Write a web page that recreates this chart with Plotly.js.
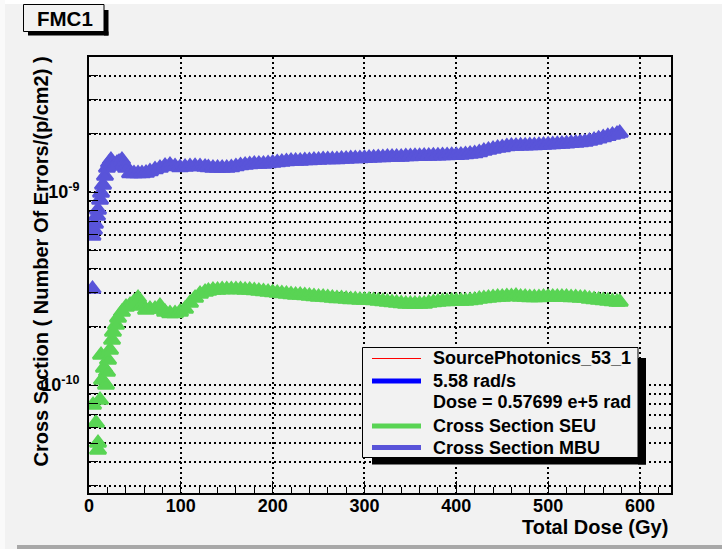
<!DOCTYPE html>
<html>
<head>
<meta charset="utf-8">
<script src="https://cdn.plot.ly/plotly-3.0.1.min.js"></script>
<style>
html,body{margin:0;padding:0;background:#ffffff;}
#chart{width:728px;height:551px;}
</style>
</head>
<body>
<div id="chart"></div>
<script>
// ---------------- data ----------------
const chartTitle = "FMC1";
const xTitle = "Total Dose (Gy)";
const yTitle = "Cross Section ( Number Of Errors/(p/cm2) )";

const legendLabels = ["SourcePhotonics_53_1", "5.58 rad/s", "Dose = 0.57699 e+5 rad", "Cross Section SEU", "Cross Section MBU"];

const xTickVals = [0, 100, 200, 300, 400, 500, 600];
const yMajorVals = [1e-10, 1e-9];
const yMajorText = ["10<sup>-10</sup>", "10<sup>-9</sup>"];

// Cross Section SEU
const seuDose = [9.8, 9.8, 7.6, 4.4, 12.0, 13.1, 14.2, 16.3, 18.5, 19.6, 20.7, 22.9, 25.1, 26.1, 29.4, 31.6, 35.9, 40.3, 44.7, 49.0,
  53.4, 57.7, 62.1, 66.4, 71.9, 77.3, 82.8, 88.2, 93.7, 99.1, 104.6, 110.0, 115.5, 120.9, 126.4,
  130, 135, 140, 145, 150, 155, 160, 165, 170, 175, 180, 185, 190, 195, 200, 205, 210, 215, 220, 225,
  230, 235, 240, 245, 250, 255, 260, 265, 270, 275, 280, 285, 290, 295, 300, 305, 310, 315, 320, 325,
  330, 335, 340, 345, 350, 355, 360, 365, 370, 375, 380, 385, 390, 395, 400, 405, 410, 415, 420, 425,
  430, 435, 440, 445, 450, 455, 460, 465, 470, 475, 480, 485, 490, 495, 500, 505, 510, 515, 520, 525,
  530, 535, 540, 545, 550, 555, 560, 565, 570, 575, 578];
const seuXS = [4.60e-11, 5.00e-11, 6.36e-11, 7.88e-11, 8.36e-11, 1.430e-10, 1.061e-10, 1.225e-10, 1.000e-10, 1.168e-10,
  1.347e-10, 1.518e-10, 1.711e-10, 1.882e-10, 2.046e-10, 2.224e-10, 2.389e-10, 2.536e-10, 2.598e-10, 2.692e-10,
  2.824e-10, 2.567e-10, 2.447e-10, 2.476e-10, 2.476e-10, 2.567e-10, 2.389e-10, 2.347e-10, 2.347e-10, 2.389e-10,
  2.476e-10, 2.660e-10, 2.824e-10, 2.961e-10, 3.033e-10,
  3.069e-10, 3.107e-10, 3.107e-10, 3.125e-10, 3.125e-10, 3.125e-10, 3.125e-10, 3.125e-10, 3.107e-10, 3.107e-10,
  3.088e-10, 3.069e-10, 3.051e-10, 3.033e-10, 3.015e-10, 2.997e-10, 2.979e-10, 2.961e-10, 2.944e-10, 2.926e-10,
  2.926e-10, 2.909e-10, 2.891e-10, 2.874e-10, 2.858e-10, 2.858e-10, 2.841e-10, 2.824e-10, 2.807e-10, 2.807e-10,
  2.790e-10, 2.774e-10, 2.774e-10, 2.757e-10, 2.757e-10, 2.757e-10, 2.741e-10, 2.724e-10, 2.708e-10, 2.692e-10,
  2.676e-10, 2.660e-10, 2.645e-10, 2.629e-10, 2.629e-10, 2.629e-10, 2.629e-10, 2.629e-10, 2.660e-10, 2.676e-10,
  2.692e-10, 2.708e-10, 2.708e-10, 2.724e-10, 2.724e-10, 2.724e-10, 2.724e-10, 2.741e-10, 2.757e-10, 2.790e-10,
  2.807e-10, 2.824e-10, 2.841e-10, 2.858e-10, 2.858e-10, 2.874e-10, 2.874e-10, 2.891e-10, 2.858e-10, 2.858e-10,
  2.841e-10, 2.841e-10, 2.841e-10, 2.858e-10, 2.858e-10, 2.858e-10, 2.858e-10, 2.858e-10, 2.858e-10, 2.841e-10,
  2.841e-10, 2.824e-10, 2.824e-10, 2.790e-10, 2.774e-10, 2.757e-10, 2.741e-10, 2.724e-10, 2.708e-10, 2.692e-10, 2.692e-10];

// Cross Section MBU
const mbuDose = [3.8, 3.8, 5.4, 6.5, 8.7, 9.8, 12.0, 13.1, 15.3, 17.4, 19.6, 21.8, 23.9, 26.1, 28.3, 30.5, 32.7, 35.9, 38.1, 40.3,
  44.7, 49.0, 53.4, 57.7, 62.1, 66.4, 71.9, 77.3, 82.8, 88.2, 93.7, 99.1, 104.6, 110.0, 115.5, 120.9, 126.4,
  130, 135, 140, 145, 150, 155, 160, 165, 170, 175, 180, 185, 190, 195, 200, 205, 210, 215, 220, 225,
  230, 235, 240, 245, 250, 255, 260, 265, 270, 275, 280, 285, 290, 295, 300, 305, 310, 315, 320, 325,
  330, 335, 340, 345, 350, 355, 360, 365, 370, 375, 380, 385, 390, 395, 400, 405, 410, 415, 420, 425,
  430, 435, 440, 445, 450, 455, 460, 465, 470, 475, 480, 485, 490, 495, 500, 505, 510, 515, 520, 525,
  530, 535, 540, 545, 550, 555, 560, 565, 570, 575, 578];
const mbuXS = [3.14e-10, 5.92e-10, 6.36e-10, 6.83e-10, 7.51e-10, 8.07e-10, 9.09e-10, 9.88e-10, 1.087e-9, 1.210e-9,
  1.331e-9, 1.413e-9, 1.465e-9, 1.397e-9, 1.364e-9, 1.413e-9, 1.430e-9, 1.465e-9, 1.397e-9, 1.331e-9,
  1.247e-9, 1.247e-9, 1.247e-9, 1.247e-9, 1.254e-9, 1.277e-9, 1.308e-9, 1.331e-9, 1.364e-9, 1.380e-9,
  1.356e-9, 1.339e-9, 1.347e-9, 1.356e-9, 1.359e-9, 1.356e-9, 1.347e-9,
  1.339e-9, 1.331e-9, 1.331e-9, 1.331e-9, 1.331e-9, 1.339e-9, 1.356e-9, 1.372e-9, 1.380e-9, 1.388e-9,
  1.397e-9, 1.397e-9, 1.397e-9, 1.405e-9, 1.413e-9, 1.422e-9, 1.430e-9, 1.439e-9, 1.447e-9, 1.447e-9,
  1.447e-9, 1.456e-9, 1.456e-9, 1.465e-9, 1.465e-9, 1.474e-9, 1.474e-9, 1.474e-9, 1.474e-9, 1.482e-9,
  1.482e-9, 1.491e-9, 1.491e-9, 1.491e-9, 1.495e-9, 1.500e-9, 1.504e-9, 1.509e-9, 1.509e-9, 1.518e-9,
  1.518e-9, 1.518e-9, 1.518e-9, 1.527e-9, 1.527e-9, 1.533e-9, 1.533e-9, 1.536e-9, 1.536e-9, 1.540e-9,
  1.540e-9, 1.546e-9, 1.546e-9, 1.549e-9, 1.549e-9, 1.555e-9, 1.564e-9, 1.574e-9, 1.583e-9, 1.602e-9,
  1.631e-9, 1.650e-9, 1.670e-9, 1.690e-9, 1.700e-9, 1.721e-9, 1.731e-9, 1.731e-9, 1.735e-9, 1.737e-9,
  1.739e-9, 1.741e-9, 1.746e-9, 1.752e-9, 1.756e-9, 1.762e-9, 1.767e-9, 1.773e-9, 1.779e-9, 1.788e-9,
  1.794e-9, 1.805e-9, 1.816e-9, 1.838e-9, 1.860e-9, 1.886e-9, 1.916e-9, 1.943e-9, 1.974e-9, 1.997e-9, 2.021e-9];

// ---------------- styling / layout ----------------
const W = 728, H = 551;
const M = {l: 89, r: 57, t: 57, b: 58};
const PW = W - M.l - M.r, PH = H - M.t - M.b;
const px = v => (v - M.l) / PW;          // pixel x -> paper
const py = v => (H - M.b - v) / PH;      // pixel y -> paper

const FONT = "Liberation Sans, Arial, Helvetica, sans-serif";
const BG = "#f2f2f2";
const SEU_COLOR = "rgb(89,212,84)";
const MBU_COLOR = "rgb(89,84,217)";

// y grid at every 1..9 x 10^n inside the range
const yRange = [-10.5596, -8.3005];
const yGrid = [];
for (let e = -11; e <= -9; e++) {
  for (let m = 1; m <= 9; m++) {
    const v = m * Math.pow(10, e);
    const lv = Math.log10(v);
    if (lv > yRange[0] && lv < yRange[1]) yGrid.push(v);
  }
}
const yText = yGrid.map(v => {
  const i = yMajorVals.findIndex(t => Math.abs(Math.log10(t) - Math.log10(v)) < 1e-6);
  return i >= 0 ? yMajorText[i] : " ";
});

const markerStyle = c => ({symbol: "triangle-up", size: 14, color: c, line: {color: c, width: 2.5}});

const traces = [
  {type: "scatter", mode: "markers", x: seuDose, y: seuXS, name: legendLabels[3],
   marker: markerStyle(SEU_COLOR), showlegend: false, hoverinfo: "skip"},
  {type: "scatter", mode: "markers", x: mbuDose, y: mbuXS, name: legendLabels[4],
   marker: markerStyle(MBU_COLOR), showlegend: false, hoverinfo: "skip"}
];

const shapes = [];
const rect = (x0, y0, x1, y1, fill, line, layer) => shapes.push({
  type: "rect", xref: "paper", yref: "paper", x0: px(x0), x1: px(x1), y0: py(y1), y1: py(y0),
  fillcolor: fill, line: line || {width: 0}, layer: layer || "above"});
const hline = (x0, x1, y, color, width) => shapes.push({
  type: "line", xref: "paper", yref: "paper", x0: px(x0), x1: px(x1), y0: py(y), y1: py(y),
  line: {color: color, width: width}, layer: "above"});

// canvas borders
rect(0, 0, 728, 4, "#ffffff", null, "below");
rect(722, 0, 728, 551, "#ffffff", null, "below");
rect(0, 0, 5, 551, "#fafafa", null, "below");
rect(17, 545, 722, 549, "#a8a8a8", null, "below");
rect(0, 549, 728, 551, "#ffffff", null, "below");

// title box with shadow
rect(28, 31.5, 108.5, 35.5, "#000000");
rect(104, 10, 108.5, 35.5, "#000000");
rect(23.5, 4.5, 104, 31.5, BG, {color: "#000000", width: 1});

// legend box with shadow
rect(638, 358, 646, 464.5, "#000000");
rect(372, 457.5, 646, 464.5, "#000000");
rect(362.5, 347.5, 638, 457.5, BG, {color: "#000000", width: 1});
hline(372, 421, 358.5, "#ff0000", 1);
hline(372, 421, 381, "#0000ff", 5);
hline(372, 421, 426, SEU_COLOR, 5);
hline(372, 421, 447.5, MBU_COLOR, 5);

const ann = (text, x, y, size, extra) => Object.assign({
  text: text, xref: "paper", yref: "paper", x: px(x), y: py(y), showarrow: false,
  font: {family: FONT, size: size, color: "#000000"}, xanchor: "left", yanchor: "middle"}, extra || {});

const annotations = [
  ann("<b>" + chartTitle + "</b>", 64.5, 18.5, 20.5, {xanchor: "center"}),
  ann("<b>" + yTitle + "</b>", 40, 261.5, 20, {xanchor: "center", textangle: -90}),
  ann("<b>" + xTitle + "</b>", 670, 527, 20, {xanchor: "right"}),
  ann("<b>" + legendLabels[0] + "</b>", 431, 358, 18),
  ann("<b>" + legendLabels[1] + "</b>", 431, 381, 18),
  ann("<b>" + legendLabels[2] + "</b>", 431, 401.5, 18),
  ann("<b>" + legendLabels[3] + "</b>", 431, 426, 18),
  ann("<b>" + legendLabels[4] + "</b>", 431, 447.5, 18)
];

const layout = {
  width: W, height: H, margin: M,
  paper_bgcolor: BG, plot_bgcolor: BG,
  showlegend: false,
  font: {family: FONT, color: "#000000"},
  xaxis: {
    range: [0, 633.8], tickmode: "array", tickvals: xTickVals, ticktext: xTickVals.map(String),
    ticks: "inside", ticklen: 12, tickwidth: 1, tickcolor: "#000000", ticklabelstandoff: -5,
    tickfont: {family: FONT, size: 18, color: "#000000", weight: "bold"},
    showgrid: true, gridcolor: "#000000", gridwidth: 2, griddash: "2px,3px",
    zeroline: false, showline: true, linecolor: "#000000", linewidth: 2, mirror: true,
    minor: {dtick: 20, tick0: 0, ticks: "inside", ticklen: 6, tickcolor: "#000000", tickwidth: 1, showgrid: false}
  },
  yaxis: {
    type: "log", range: yRange, tickmode: "array", tickvals: yGrid, ticktext: yText,
    ticks: "inside", ticklen: 9, tickwidth: 1, tickcolor: "#000000", ticklabelstandoff: 4,
    tickfont: {family: FONT, size: 18, color: "#000000", weight: "bold"},
    showgrid: true, gridcolor: "#000000", gridwidth: 2, griddash: "2px,3px",
    zeroline: false, showline: true, linecolor: "#000000", linewidth: 2, mirror: true
  },
  shapes: shapes,
  annotations: annotations
};

Plotly.newPlot("chart", traces, layout, {displayModeBar: false, staticPlot: true});
</script>
</body>
</html>
